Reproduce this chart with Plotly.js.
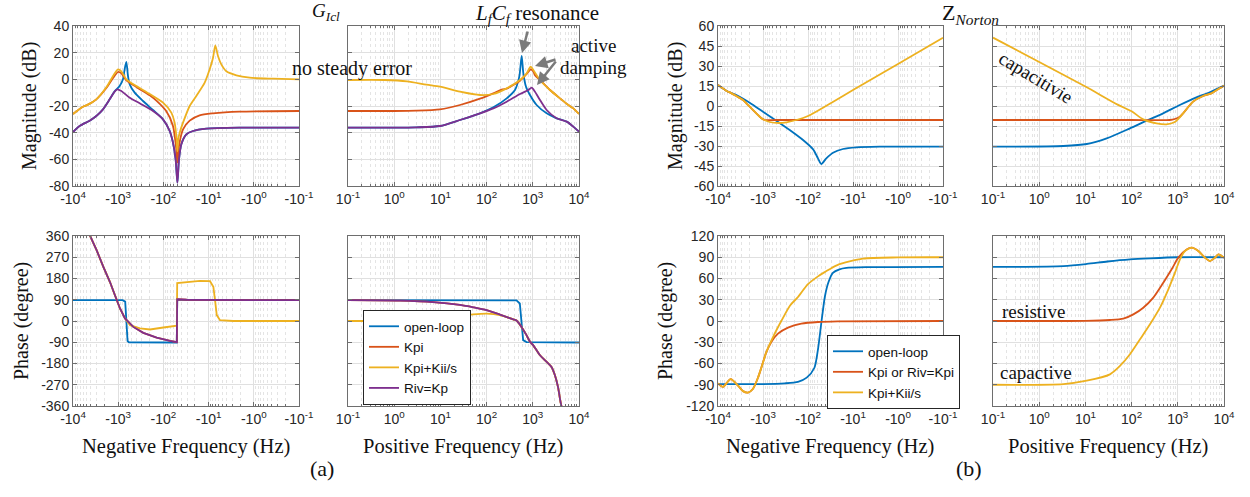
<!DOCTYPE html>
<html><head><meta charset="utf-8">
<script src="https://cdn.plot.ly/plotly-3.0.1.min.js"></script>
<style>html,body{margin:0;padding:0;background:#fff}#chart{width:1250px;height:497px}</style>
</head><body><div id="chart"></div>
<script>
// ---------- tick labels ----------
const decadeVals = [0.1, 1, 10, 100, 1000, 10000];
const posTickText = ['10<sup>-1</sup>','10<sup>0</sup>','10<sup>1</sup>','10<sup>2</sup>','10<sup>3</sup>','10<sup>4</sup>'];
const negTickText = ['-10<sup>-1</sup>','-10<sup>0</sup>','-10<sup>1</sup>','-10<sup>2</sup>','-10<sup>3</sup>','-10<sup>4</sup>'];
const magATicks = [-80,-60,-40,-20,0,20,40];
const phaseATicks = [-360,-270,-180,-90,0,90,180,270,360];
const magBTicks = [-60,-45,-30,-15,0,15,30,45,60];
const phaseBTicks = [-120,-90,-60,-30,0,30,60,90,120];

const seriesA = ['open-loop','Kpi','Kpi+Kii/s','Riv=Kp'];
const seriesB = ['open-loop','Kpi or Riv=Kpi','Kpi+Kii/s'];

// ---------- (a) G_Icl, negative frequency, magnitude (|f| in Hz, dB) ----------
const aNegMagBlueF = [10000,7130,4280,3050,2170,1545,1200,929,784,720,661,607,557,432,283,170,102,72.6,61.4,53.6,49,45.2,40.1,31.1,22.1,11.2,2.06,0.1];
const aNegMagBlue  = [-39.5,-35,-31,-27.5,-22.5,-15,-9,-5,0,7.5,13,2.5,-3.75,-10,-16.25,-23,-30,-38.75,-47.5,-60,-77.5,-60,-48.75,-41.25,-38.75,-37,-36.25,-36.25];
const aNegMagRedF  = [10000,6010,4660,3050,1830,1300,1010,853,661,397,201,143,86,61.4,51.8,49,45.2,36.8,26.2,15.8,8,2.06,0.1];
const aNegMagRed   = [-26,-20.5,-19,-15,-6.5,1,5.5,4.5,-0.75,-5.75,-12,-16,-24,-35,-52.5,-62.5,-50,-37.5,-31,-27,-25.5,-24.25,-23.75];
const aNegMagYelF  = [10000,6010,4660,3050,1830,1300,1010,853,661,397,201,102,66.7,56.4,51,49,47,43.6,36.8,26.2,18.7,12.2,9.47,8.0,7.1,6.2,5.2,4.05,2.43,1.23,0.376,0.1];
const aNegMagYel   = [-26,-20.5,-19,-15,-6,2.5,7.5,6,0,-5,-11,-17.5,-25,-32.5,-45,-54,-45,-40,-32.5,-20,-12.5,-2.5,7.5,16,25.5,17.5,11,6,3,1.25,0.5,0];
const aNegMagPurF  = [10000,7130,4280,3050,2170,1545,1200,1045,853,557,335,170,102,72.6,61.4,53.6,49,45.2,40.1,31.1,22.1,11.2,2.06,0.1];
const aNegMagPur   = [-39.5,-35,-31,-27.5,-22.5,-15,-9.25,-7.5,-8.75,-13.75,-18,-23.75,-30,-38.75,-47.5,-60,-77.5,-60,-48.75,-41.25,-38.75,-37,-36.25,-36.25];

// ---------- (a) positive frequency, magnitude ----------
const aPosMagBlueF = [0.1,1,3,9.8,26.5,72,140,272,411,510,574,624,713,869,1211,1995,3280,5400,7530,10000];
const aPosMagBlue  = [-36.25,-36.25,-36,-35,-30.5,-25.5,-21,-14.25,-8,2,17.5,4.5,-5.5,-11.75,-19.25,-25.5,-29.25,-31.75,-35.5,-39.25];
const aPosMagRedF  = [0.1,1,3,9.8,26.5,72,140,220,272,528,736,899,1026,1115,1430,2355,3875,5870,7530,10000];
const aPosMagRed   = [-23.75,-23.75,-23.5,-22.5,-19.25,-14.5,-10.5,-7.5,-7,-1,4,7.5,6,3,-0.5,-8,-14.25,-19.25,-21.75,-26];
const aPosMagYelF  = [0.1,0.6,1.9,5,9.8,26.5,72,140,272,528,736,899,1026,1430,2355,3875,5870,7530,10000];
const aPosMagYel   = [-0.5,-0.5,-1.5,-4,-5.5,-9.25,-11.75,-11,-6.75,-0.5,4.5,9.5,7,-0.5,-8,-14.25,-19.25,-21.75,-26];
const aPosMagPurF  = [0.1,1,3,9.8,26.5,72,140,272,528,800,944,1115,1430,1995,3280,5400,7530,10000];
const aPosMagPur   = [-36.25,-36.25,-36,-35,-30.5,-25.5,-21.75,-16.75,-11,-8,-6.25,-9.25,-15.5,-23,-29.25,-31.75,-35.5,-39.25];

// ---------- (a) negative frequency, phase (deg) ----------
const aNegPhBlueF = [10000,800,700,670,650,620,580,50.5,49.5,0.1];
const aNegPhBlue  = [88,88,82,30,-50,-85,-90,-91,89.5,89.5];
const aNegPhRedF  = [10000,4065,2990,2130,1520,1180,912,708,463,278,141,71,50.5,49.5,30.5,0.1];
const aNegPhRed   = [520,360,299,229,165,109,53,11,-25,-50,-70,-84,-90,92,90,88];
const aNegPhYelF  = [10000,4065,2990,2130,1520,1180,912,708,548,330,198,100,52.6,50.5,49.5,30.5,15.5,9.3,7.85,7.2,6.6,5.6,2.84,0.1];
const aNegPhYel   = [520,360,299,229,165,109,53,11,-17.5,-31.5,-36,-27.5,-20.5,-20,161,165.5,170,168.5,144.5,88,25,3.5,0,0];
const aNegPhPurF  = [10000,4065,2990,2130,1520,1180,912,708,463,278,141,71,50.5,49.5,30.5,0.1];
const aNegPhPur   = [520,360,299,229,165,109,53,11,-25,-50,-70,-84,-90,92,90,88];

// ---------- (a) positive frequency, phase ----------
const aPosPhBlueF = [0.1,444,524,569,618,730,10000];
const aPosPhBlue  = [88,87,74,4,-81,-89.5,-91];
const aPosPhRedF  = [0.1,1.35,7,26.5,51.5,100,194,377,444,569,730,870,1016,1416,1972,2520,3000,3500,4160,6000];
const aPosPhRed   = [88,86,80,68,58,46,27,7,2,-25,-60,-88,-102,-144,-172,-194,-229,-278,-360,-450];
const aPosPhYelF  = [0.1,0.5,1.35,7,26.5,51.5,100,194,377,444,569,730,870,1016,1416,1972,2520,3000,3500,4160,6000];
const aPosPhYel   = [0,1,4,14,22,28,31,25,7,2,-25,-60,-88,-102,-144,-172,-194,-229,-278,-360,-450];
const aPosPhPurF  = [0.1,1.35,7,26.5,51.5,100,194,377,444,569,730,870,1016,1416,1972,2520,3000,3500,4160,6000];
const aPosPhPur   = [88,86,80,68,58,46,27,7,2,-25,-60,-88,-102,-144,-172,-194,-229,-278,-360,-450];

// ---------- (b) Z_Norton, negative frequency, magnitude ----------
const bNegMagBlueF = [10000,6540,3915,1977,1000,506,255,129,77,60,50.6,39.2,27.8,16.7,8.43,2.55,0.1];
const bNegMagBlue  = [15.75,11.5,8.25,2.5,-4.25,-11,-18,-25.5,-32.5,-39.25,-43.5,-39.25,-35,-32.25,-31,-30.5,-30.5];
const bNegMagRedF  = [10000,6540,5000,3915,2780,2345,1977,1405,1100,900,500,100,10,1,0.1];
const bNegMagRed   = [15.75,11.5,9.5,7.5,4.5,2,-0.5,-5.5,-9,-10.5,-10.5,-10.5,-10.5,-10.5,-10.5];
const bNegMagYelF  = [10000,6540,5000,3915,2780,2345,1977,1405,1000,711,427,300,181,100,30,10,1,0.1];
const bNegMagYel   = [15.75,11.5,9.5,7.5,4.5,2,-0.5,-5.5,-10,-12,-12.75,-12.2,-10.5,-7.5,2.5,12,31.5,51.25];

// ---------- (b) positive frequency, magnitude ----------
const bPosMagBlueF = [0.1,3.35,10.7,28.9,92,211,482,1104,2530,4907,10000];
const bPosMagBlue  = [-30.5,-30,-28.5,-24.25,-16.75,-11,-5.5,0.75,6.5,10.25,15.25];
const bPosMagRedF  = [0.1,1,10,100,672,861,1104,1303,2143,3524,5333,7430,10000];
const bPosMagRed   = [-10.5,-10.5,-10.5,-10.5,-10.5,-9.75,-8,-5.5,3.25,7.5,9.5,12.5,15.25];
const bPosMagYelF  = [0.1,1,10,50,100,179,347,569,861,1104,1303,2143,3524,5333,7430,10000];
const bPosMagYel   = [51.25,33,14.6,1,-4,-10,-13,-13.75,-12,-8.5,-5.5,3.25,7.5,9.5,12.5,15.25];

// ---------- (b) negative frequency, phase ----------
const bNegPhBlueF = [10000,1000,330,167,107,72,60,50,42,35,28,20,14,5,0.1];
const bNegPhBlue  = [-89,-89,-88,-86,-80,-66,-40,0,35,55,68,73,75,76,76.5];
const bNegPhRedF  = [10000,7740,5230,3500,2780,2155,1680,1292,1089,843,653,464,278,141,60,22,0.1];
const bNegPhRed   = [-88,-93,-82,-92,-99,-101,-96,-80,-66,-44,-29.6,-17.9,-9.4,-3.8,-1.4,-0.5,0];
const bNegPhYelF  = [10000,7740,5230,3500,2780,2155,1680,1292,1089,843,551,392,250,172,100,60,42.6,22.3,6,1,0.1];
const bNegPhYel   = [-88,-93,-82,-92,-99,-101,-96,-80,-66,-44,-18,0,22,33,52,63,69,79,88,89.8,90];

// ---------- (b) positive frequency, phase ----------
const bPosPhBlueF = [0.1,3.35,10.7,30,92,250,1000,10000];
const bPosPhBlue  = [76.3,77.5,80.5,84,87,88.5,90,90];
const bPosPhRedF  = [0.1,10,34,66,109,179,295,485,736,1026,1553,1994,2780,3874,4977,6380,7540,10000];
const bPosPhRed   = [0,0.3,1.4,3.3,9.4,18.8,33,54,73,89.4,101,103.5,98.8,89.4,84.7,89.4,94,89.4];
const bPosPhYelF  = [0.1,3.35,10.7,34,56,92,152,250,411,624,869,1114,1429,1994,2780,3874,4977,6380,7540,10000];
const bPosPhYel   = [-90,-89,-84.3,-75.3,-63.5,-47,-25.9,-4.7,18.8,44.7,68.2,87,98.8,103.5,98.8,89.4,84.7,89.4,94,89.4];

// ---------- styling ----------
const W = 1250, H = 497;
const C = {blue:'#0072BD', red:'#D95319', yel:'#EDB120', pur:'#7E2F8E'};
const AX = '#262626';
const FRAME = '#6e6e6e';
const SANS = 'Liberation Sans, Arial, sans-serif';
const SERIF = 'Liberation Serif, Times New Roman, serif';
const minorVals = [];
for (let d = -1; d < 4; d++) for (let k = 2; k < 10; k++) minorVals.push(k * Math.pow(10, d));

const boxes = { // pixel boxes [x0, x1, y0, y1]
  1:[73,299,26,186], 2:[348,579,26,186], 3:[73,299,236,406], 4:[348,579,236,406],
  5:[718,943,26,186], 6:[993,1224,26,186], 7:[718,943,236,406], 8:[993,1224,236,406]
};
function xa(k, neg) {
  const b = boxes[k];
  return {domain:[b[0]/W, b[1]/W], anchor:'y'+(k===1?'':k), type:'log',
    range: neg ? [4,-1] : [-1,4], tickmode:'array', tickvals:decadeVals,
    ticktext: neg ? negTickText : posTickText, ticks:'inside', ticklen:4, tickcolor:FRAME,
    showline:true, linecolor:FRAME, linewidth:1, mirror:'ticks', showgrid:true,
    gridcolor:'#e0e0e0', gridwidth:1, zeroline:false,
    tickfont:{family:SANS, size:14, color:AX},
    minor:{tickmode:'array', tickvals:minorVals, ticks:'inside', ticklen:2, tickcolor:FRAME,
      showgrid:true, gridcolor:'#e4e4e4', griddash:'dot', gridwidth:1},
    fixedrange:true};
}
function ya(k, ticks, labels) {
  const b = boxes[k];
  return {domain:[1-b[3]/H, 1-b[2]/H], anchor:'x'+(k===1?'':k),
    range:[ticks[0], ticks[ticks.length-1]], tickmode:'array', tickvals:ticks,
    ticktext: ticks.map(String), showticklabels:labels, ticks:'inside', ticklen:4, tickcolor:FRAME,
    showline:true, linecolor:FRAME, linewidth:1, mirror:'ticks', showgrid:true,
    gridcolor:'#e0e0e0', gridwidth:1, zeroline:false,
    tickfont:{family:SANS, size:14, color:AX}, fixedrange:true};
}
function tr(k, f, v, color, name, leg, linear) {
  const s = k===1 ? '' : k;
  return {x:f, y:v, xaxis:'x'+s, yaxis:'y'+s, type:'scatter', mode:'lines',
    line:{color:color, width:1.8, shape: linear ? 'linear' : 'spline', smoothing:0.7},
    name:name, showlegend:!!leg, legend: leg || 'legend', hoverinfo:'skip'};
}
const data = [
  tr(1,aNegMagBlueF,aNegMagBlue,C.blue), tr(1,aNegMagRedF,aNegMagRed,C.red),
  tr(1,aNegMagYelF,aNegMagYel,C.yel), tr(1,aNegMagPurF,aNegMagPur,C.pur),
  tr(2,aPosMagBlueF,aPosMagBlue,C.blue), tr(2,aPosMagRedF,aPosMagRed,C.red),
  tr(2,aPosMagYelF,aPosMagYel,C.yel), tr(2,aPosMagPurF,aPosMagPur,C.pur),
  tr(3,aNegPhBlueF,aNegPhBlue,C.blue,null,null,true), tr(3,aNegPhRedF,aNegPhRed,C.red,null,null,true),
  tr(3,aNegPhYelF,aNegPhYel,C.yel,null,null,true), tr(3,aNegPhPurF,aNegPhPur,C.pur,null,null,true),
  tr(4,aPosPhBlueF,aPosPhBlue,C.blue,seriesA[0],'legend',true), tr(4,aPosPhRedF,aPosPhRed,C.red,seriesA[1],'legend'),
  tr(4,aPosPhYelF,aPosPhYel,C.yel,seriesA[2],'legend'), tr(4,aPosPhPurF,aPosPhPur,C.pur,seriesA[3],'legend'),
  tr(5,bNegMagBlueF,bNegMagBlue,C.blue), tr(5,bNegMagRedF,bNegMagRed,C.red), tr(5,bNegMagYelF,bNegMagYel,C.yel),
  tr(6,bPosMagBlueF,bPosMagBlue,C.blue), tr(6,bPosMagRedF,bPosMagRed,C.red), tr(6,bPosMagYelF,bPosMagYel,C.yel),
  tr(7,bNegPhBlueF,bNegPhBlue,C.blue,seriesB[0],'legend2'), tr(7,bNegPhRedF,bNegPhRed,C.red,seriesB[1],'legend2'),
  tr(7,bNegPhYelF,bNegPhYel,C.yel,seriesB[2],'legend2'),
  tr(8,bPosPhBlueF,bPosPhBlue,C.blue), tr(8,bPosPhRedF,bPosPhRed,C.red), tr(8,bPosPhYelF,bPosPhYel,C.yel)
];

function txt(px, py, text, size, extra) {
  return Object.assign({xref:'paper', yref:'paper', x:px/W, y:1-py/H, text:text,
    showarrow:false, xanchor:'center', yanchor:'middle',
    font:{family:SERIF, size:size, color:'#111'}}, extra||{});
}
function arrow(px, py, ax, ay) {
  return {xref:'paper', yref:'paper', x:px/W, y:1-py/H, ax:ax, ay:ay, text:'',
    showarrow:true, arrowhead:2, arrowsize:1, arrowwidth:2.5, arrowcolor:'#7a7a7a', standoff:0};
}
const annotations = [
  txt(29,106,'Magnitude (dB)',20,{textangle:-90}),
  txt(21,321,'Phase (degree)',20,{textangle:-90}),
  txt(675,106,'Magnitude (dB)',20,{textangle:-90}),
  txt(665,321,'Phase (degree)',20,{textangle:-90}),
  txt(186,446,'Negative Frequency (Hz)',20.5),
  txt(463,446,'Positive Frequency (Hz)',20.5),
  txt(830,446,'Negative Frequency (Hz)',20.5),
  txt(1108,446,'Positive Frequency (Hz)',20.5),
  txt(326,12,'<i>G</i><sub><i>Icl</i></sub>',19),
  txt(970,14,'Z<sub><i>Norton</i></sub>',22),
  txt(537,14,'<i>L</i><sub><i>f</i></sub><i>C</i><sub><i>f</i></sub> resonance',21),
  txt(352,68,'no steady error',20),
  txt(593,46,'active',19),
  txt(593,67,'damping',19),
  txt(1036,77,'capacitivie',19,{textangle:31}),
  txt(1033,311,'resistive',19),
  txt(1036,372,'capactive',19),
  txt(322,468,'(a)',22),
  txt(969,468,'(b)',22),
  arrow(522,53,6,-23),
  arrow(535,66,22,-7),
  arrow(537,85,20,-25)
];

const legendStyle = {bgcolor:'#ffffff', bordercolor:AX, borderwidth:1,
  font:{family:SANS, size:13.5, color:'#111'}, xanchor:'left', yanchor:'top',
  tracegroupgap:0, itemwidth:30, traceorder:'normal'};

const layout = {
  width:W, height:H, margin:{l:0,r:0,t:0,b:0}, paper_bgcolor:'#fff', plot_bgcolor:'#fff',
  showlegend:true,
  legend: Object.assign({x:363/W, y:1-310/H}, legendStyle),
  legend2: Object.assign({x:827/W, y:1-335/H}, legendStyle),
  annotations: annotations,
  xaxis:xa(1,true), yaxis:ya(1,magATicks,true),
  xaxis2:xa(2,false), yaxis2:ya(2,magATicks,false),
  xaxis3:xa(3,true), yaxis3:ya(3,phaseATicks,true),
  xaxis4:xa(4,false), yaxis4:ya(4,phaseATicks,false),
  xaxis5:xa(5,true), yaxis5:ya(5,magBTicks,true),
  xaxis6:xa(6,false), yaxis6:ya(6,magBTicks,false),
  xaxis7:xa(7,true), yaxis7:ya(7,phaseBTicks,true),
  xaxis8:xa(8,false), yaxis8:ya(8,phaseBTicks,false)
};
Plotly.newPlot('chart', data, layout, {staticPlot:true, displayModeBar:false});
</script></body></html>
